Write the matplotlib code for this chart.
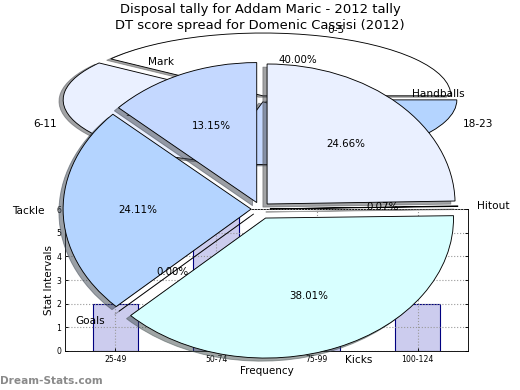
import matplotlib
matplotlib.use("Agg")
import matplotlib.pyplot as plt

# ---------------- data ----------------
title1 = "Disposal tally for Addam Maric - 2012 tally"
title2 = "DT score spread for Domenic Cassisi (2012)"

# histogram (bottom axes)
bar_categories = ["25-49", "50-74", "75-99", "100-124"]
bar_values = [2, 6, 1, 2]

# DT score spread pie
dt_labels = ["0-5", "6-11", "12-17", "18-23"]
dt_values = [18, 14, 8, 5]
dt_colors = ["#ffffff", "#eaf0ff", "#c4d8ff", "#b4d4ff"]

# disposal pie
disp_labels = ["Mark", "Tackle", "Goals", "Kicks", "Hitout", "Handballs"]
disp_values = [13.15, 24.11, 0.00, 38.01, 0.07, 24.66]
disp_colors = ["#c4d8ff", "#b4d4ff", "#e0e0ff", "#d8ffff", "#ffffff", "#eaf0ff"]

W, H, DPI = 520, 390, 80
fig = plt.figure(figsize=(W / DPI, H / DPI), dpi=DPI)
plt.rcParams['font.family'] = ['DejaVu Sans']

# ---------------- bar axes ----------------
axb = fig.add_axes([0.125, 0.1, 0.775, 0.3636])
xpos = list(range(len(bar_categories)))
axb.bar(xpos, bar_values, width=0.45, color="#ccccee", edgecolor="#000080", linewidth=1)
axb.set_xlim(-0.5, 3.5)
axb.set_ylim(0, 6)
axb.set_yticks(range(0, 7))
axb.set_xticks(xpos)
axb.set_xticklabels(bar_categories)
axb.tick_params(labelsize=7, direction="in", length=3, top=False, right=True)
axb.set_axisbelow(False)
axb.grid(True, linestyle=":", color="#999999", linewidth=1)
axb.set_xlabel("Frequency", fontsize=9.3, labelpad=2)
axb.set_ylabel("Stat Intervals", fontsize=9.3, labelpad=2)


def pie_axes(cx_px, cy_px, sx, sy):
    ax = fig.add_axes([0, 0, 1, 1])
    return ax, (-cx_px / sx, (W - cx_px) / sx), (-(H - cy_px) / sy, cy_px / sy)


# ---------------- DT score pie ----------------
ax1, xl1, yl1 = pie_axes(260.0, 98.8, 188.0, 62.8)
_, t1, a1 = ax1.pie(dt_values, labels=dt_labels, colors=dt_colors,
                    explode=[0.05] * len(dt_values),
                    startangle=0, shadow=True, autopct="%.2f%%",
                    wedgeprops=dict(edgecolor="black", linewidth=0.8),
                    textprops=dict(fontsize=9.5))
for t in a1:
    t.set_fontsize(9.2)
ax1.set_aspect("auto")
ax1.set_xlim(*xl1)
ax1.set_ylim(*yl1)
ax1.set_axis_off()

# ---------------- Disposal pie ----------------
ax2, xl2, yl2 = pie_axes(260.5, 209.0, 188.0, 140.0)
_, t2, a2 = ax2.pie(disp_values, labels=disp_labels, colors=disp_colors,
                    explode=[0.05, 0.05, 0.05, 0.07, 0.05, 0.05],
                    startangle=90, shadow=True, autopct="%.2f%%",
                    wedgeprops=dict(edgecolor="black", linewidth=0.8),
                    textprops=dict(fontsize=9.5))
for t in a2:
    t.set_fontsize(9.2)
ax2.set_aspect("auto")
ax2.set_xlim(*xl2)
ax2.set_ylim(*yl2)
ax2.set_axis_off()

# ---------------- titles & watermark ----------------
fig.text(0.5, 1 - 10 / H, title1, ha="center", va="center", fontsize=11.8)
fig.text(0.5, 1 - 26 / H, title2, ha="center", va="center", fontsize=11.8)
fig.text(0.0, 1 - 381 / H, "Dream-Stats.com", ha="left", va="center",
         fontsize=9.5, color="#8a8a8a", fontweight="bold")

fig.savefig("out.png", dpi=DPI)
